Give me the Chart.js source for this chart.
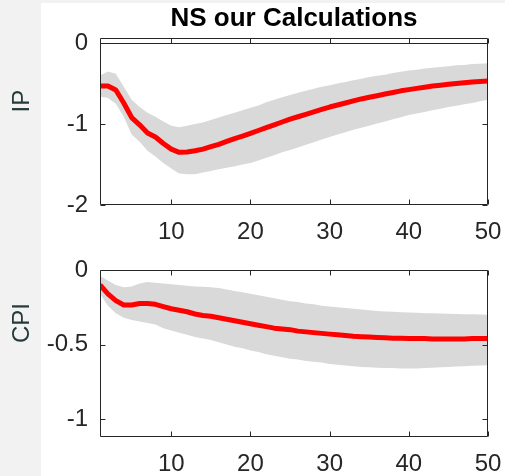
<!DOCTYPE html>
<html>
<head>
<meta charset="utf-8">
<script src="https://cdn.jsdelivr.net/npm/chart.js@4.4.1/dist/chart.umd.min.js"></script>
<style>
	html, body { margin: 0; padding: 0; }
	body { width: 505px; height: 476px; background: #f2f2f2; position: relative; overflow: hidden; }
	#paper { position: absolute; left: 41px; top: 3px; right: 0; bottom: 0; background: #fff; }
	canvas { position: absolute; left: 0; }
	#chart-ip { top: 0; }
	#chart-cpi { top: 245px; }
</style>
</head>
<body>
<div id="paper"></div>
<canvas id="chart-ip" width="505" height="245"></canvas>
<canvas id="chart-cpi" width="505" height="231"></canvas>
<script>
// ================ data ================
const horizons = [
	1, 2, 3, 4, 5, 6, 7, 8, 9, 10, 11, 12, 13, 14, 15, 16, 17, 18, 19, 20, 21, 22, 23, 24, 25,
	26, 27, 28, 29, 30, 31, 32, 33, 34, 35, 36, 37, 38, 39, 40, 41, 42, 43, 44, 45, 46, 47, 48, 49, 50,
];
const xTicks = [10, 20, 30, 40, 50];

// industrial production response: median and band
const ipMedian = [
	-0.53, -0.53, -0.58, -0.74, -0.92, -1.01, -1.11, -1.16, -1.24, -1.31,
	-1.35, -1.345, -1.33, -1.31, -1.28, -1.25, -1.215, -1.18, -1.15, -1.115,
	-1.08, -1.045, -1.01, -0.975, -0.94, -0.91, -0.88, -0.85, -0.82, -0.79,
	-0.765, -0.74, -0.715, -0.69, -0.67, -0.65, -0.63, -0.61, -0.59, -0.575,
	-0.56, -0.545, -0.53, -0.52, -0.51, -0.5, -0.49, -0.48, -0.475, -0.47,
];
const ipUpper = [
	-0.4, -0.35, -0.38, -0.54, -0.7, -0.79, -0.86, -0.91, -0.97, -1.02,
	-1.04, -1.02, -1.0, -0.98, -0.95, -0.92, -0.89, -0.86, -0.83, -0.8,
	-0.77, -0.73, -0.7, -0.67, -0.64, -0.615, -0.59, -0.565, -0.54, -0.52,
	-0.5, -0.48, -0.46, -0.44, -0.42, -0.405, -0.39, -0.37, -0.355, -0.34,
	-0.33, -0.315, -0.305, -0.295, -0.285, -0.275, -0.27, -0.26, -0.255, -0.25,
];
const ipLower = [
	-0.66, -0.68, -0.75, -0.91, -1.13, -1.22, -1.33, -1.4, -1.48, -1.55,
	-1.61, -1.62, -1.62, -1.6, -1.58, -1.56, -1.54, -1.52, -1.5, -1.48,
	-1.45, -1.415, -1.385, -1.35, -1.32, -1.29, -1.255, -1.225, -1.19, -1.16,
	-1.13, -1.1, -1.07, -1.045, -1.02, -0.995, -0.97, -0.94, -0.915, -0.89,
	-0.87, -0.85, -0.83, -0.81, -0.79, -0.775, -0.755, -0.74, -0.72, -0.7,
];
const ipTicks = [-2, -1, 0];

// consumer prices response: median and band
const cpiMedian = [
	-0.1, -0.16, -0.205, -0.235, -0.235, -0.225, -0.225, -0.23, -0.245, -0.26,
	-0.27, -0.28, -0.295, -0.305, -0.31, -0.32, -0.33, -0.34, -0.35, -0.36,
	-0.37, -0.38, -0.39, -0.395, -0.4, -0.41, -0.415, -0.42, -0.425, -0.43,
	-0.435, -0.44, -0.445, -0.447, -0.45, -0.452, -0.455, -0.457, -0.458, -0.46,
	-0.46, -0.46, -0.462, -0.462, -0.462, -0.462, -0.462, -0.46, -0.46, -0.46,
];
const cpiUpper = [
	-0.04, -0.07, -0.1, -0.115, -0.11, -0.09, -0.08, -0.085, -0.09, -0.095,
	-0.1, -0.105, -0.11, -0.112, -0.115, -0.12, -0.13, -0.14, -0.15, -0.16,
	-0.17, -0.18, -0.19, -0.2, -0.21, -0.215, -0.225, -0.23, -0.24, -0.245,
	-0.25, -0.255, -0.26, -0.265, -0.27, -0.275, -0.278, -0.28, -0.283, -0.285,
	-0.287, -0.29, -0.29, -0.292, -0.293, -0.295, -0.296, -0.297, -0.298, -0.3,
];
const cpiLower = [
	-0.16, -0.24, -0.29, -0.32, -0.335, -0.345, -0.355, -0.365, -0.39, -0.405,
	-0.42, -0.435, -0.45, -0.46, -0.47, -0.485, -0.5, -0.515, -0.525, -0.54,
	-0.55, -0.565, -0.575, -0.585, -0.595, -0.6, -0.61, -0.615, -0.62, -0.63,
	-0.635, -0.64, -0.645, -0.65, -0.652, -0.655, -0.657, -0.658, -0.66, -0.66,
	-0.66, -0.658, -0.655, -0.653, -0.65, -0.648, -0.645, -0.642, -0.64, -0.638,
];
const cpiTicks = [-1, -0.5, 0];

// ================ styling ================
const FONT = "'Liberation Sans', Arial, Helvetica, sans-serif";
const AXIS_COLOR = "#262626";
const BAND_COLOR = "#d9d9d9";
const LINE_COLOR = "#ff0000";
const TICK_LEN = 5;

// box around the plot, inward ticks on all sides, zero line and rotated y label
const axesBox = {
	id: "axesBox",
	afterDatasetsDraw(chart, args, opts) {
		const { ctx, chartArea: a, scales } = chart;
		const x = scales.x;
		const y = scales.y;
		const L = Math.round(a.left) + 0.5;
		const R = Math.round(a.right) - 0.5;
		const T = Math.round(a.top) + 0.5;
		const B = Math.round(a.bottom) - 0.5;
		ctx.save();
		ctx.strokeStyle = AXIS_COLOR;
		ctx.lineWidth = 1;
		ctx.beginPath();
		for (const t of x.ticks) {
			const px = Math.round(x.getPixelForValue(t.value)) + 0.5;
			ctx.moveTo(px, T);
			ctx.lineTo(px, T + TICK_LEN);
			ctx.moveTo(px, B);
			ctx.lineTo(px, B - TICK_LEN);
		}
		for (const t of y.ticks) {
			const py = Math.round(y.getPixelForValue(t.value)) + 0.5;
			ctx.moveTo(L, py);
			ctx.lineTo(L + TICK_LEN, py);
			ctx.moveTo(R, py);
			ctx.lineTo(R - TICK_LEN, py);
		}
		if (opts.zeroLine) {
			const pz = Math.round(y.getPixelForValue(0)) + 0.5;
			ctx.moveTo(L, pz);
			ctx.lineTo(R, pz);
		}
		ctx.rect(L, T, R - L, B - T);
		ctx.stroke();

		ctx.fillStyle = "#263a3a";
		ctx.font = `24px ${FONT}`;
		ctx.textAlign = "center";
		ctx.textBaseline = "middle";
		ctx.translate(a.left + opts.labelDx, a.top + opts.labelDy);
		ctx.rotate(-Math.PI / 2);
		ctx.fillText(opts.label, 0, 0);
		ctx.restore();
	},
};

function toPoints(values) {
	return values.map((v, i) => ({ x: horizons[i], y: v }));
}

function makePanel(canvasId, panel) {
	const ctx = document.getElementById(canvasId);
	return new Chart(ctx, {
		type: "line",
		data: {
			datasets: [
				{
					data: toPoints(panel.median),
					borderColor: LINE_COLOR,
					borderWidth: 5,
					pointRadius: 0,
					fill: false,
					tension: 0,
					borderJoinStyle: "round",
				},
				{
					data: toPoints(panel.upper),
					borderColor: "rgba(0,0,0,0)",
					borderWidth: 0,
					backgroundColor: BAND_COLOR,
					pointRadius: 0,
					fill: "+1",
				},
				{
					data: toPoints(panel.lower),
					borderColor: "rgba(0,0,0,0)",
					borderWidth: 0,
					pointRadius: 0,
					fill: false,
				},
			],
		},
		options: {
			responsive: false,
			animation: false,
			devicePixelRatio: 1,
			layout: { padding: { top: panel.padTop, right: 17, bottom: 0, left: 0 } },
			plugins: {
				legend: { display: false },
				tooltip: { enabled: false },
				title: {
					display: !!panel.title,
					text: panel.title,
					fullSize: false,
					color: "#000",
					font: { family: FONT, size: 26, weight: "bold" },
					padding: { top: 3, bottom: 4 },
				},
				axesBox: {
					label: panel.label,
					labelDx: -78,
					labelDy: panel.labelDy,
					zeroLine: panel.zeroLine,
				},
			},
			scales: {
				x: {
					type: "linear",
					min: 1,
					max: 50,
					grid: { display: false, drawTicks: false },
					border: { display: false },
					ticks: {
						color: AXIS_COLOR,
						font: { family: FONT, size: 24 },
						padding: 13,
						maxRotation: 0,
						autoSkip: false,
						callback: (v) => String(v),
					},
					afterBuildTicks: (s) => {
						s.ticks = xTicks.map((v) => ({ value: v }));
					},
					afterFit: (s) => {
						s.height = panel.xHeight;
						s.paddingLeft = 0;
						s.paddingRight = 0;
					},
				},
				y: {
					min: panel.yMin,
					max: panel.yMax,
					grid: { display: false, drawTicks: false },
					border: { display: false },
					ticks: {
						color: AXIS_COLOR,
						font: { family: FONT, size: 24 },
						padding: 12,
						autoSkip: false,
						callback: (v) => String(v),
					},
					afterBuildTicks: (s) => {
						s.ticks = panel.yTicks.map((v) => ({ value: v }));
					},
					afterFit: (s) => {
						s.width = 100;
						s.paddingTop = 0;
						s.paddingBottom = 0;
					},
				},
			},
		},
		plugins: [axesBox],
	});
}

makePanel("chart-ip", {
	title: "NS our Calculations",
	label: "IP",
	median: ipMedian,
	upper: ipUpper,
	lower: ipLower,
	yTicks: ipTicks,
	yMin: -2,
	yMax: 0.06,
	padTop: 0,
	xHeight: 40,
	labelDy: 63,
	zeroLine: true,
});

makePanel("chart-cpi", {
	title: "",
	label: "CPI",
	median: cpiMedian,
	upper: cpiUpper,
	lower: cpiLower,
	yTicks: cpiTicks,
	yMin: -1.12,
	yMax: 0,
	padTop: 25,
	xHeight: 39,
	labelDy: 53,
	zeroLine: false,
});
</script>
</body>
</html>
